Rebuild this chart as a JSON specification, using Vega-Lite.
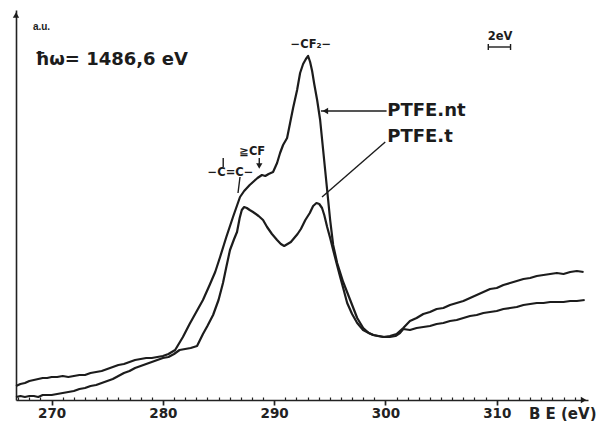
{
  "$schema": "https://vega.github.io/schema/vega-lite/v6.json",
  "width": 572,
  "height": 390,
  "autosize": {"type": "none"},
  "padding": {"left": 16, "top": 10, "right": 9, "bottom": 21},
  "background": "white",
  "config": {"view": {"stroke": null}, "font": "Liberation Sans"},
  "datasets": {
    "curves": [
      {"s":"PTFE.nt","be":266.8,"i":14},{"s":"PTFE.nt","be":267.2,"i":16},{"s":"PTFE.nt","be":267.6,"i":17},{"s":"PTFE.nt","be":268.0,"i":19},{"s":"PTFE.nt","be":268.4,"i":20},{"s":"PTFE.nt","be":268.8,"i":21},{"s":"PTFE.nt","be":269.2,"i":22},{"s":"PTFE.nt","be":269.6,"i":22},{"s":"PTFE.nt","be":270.0,"i":23},{"s":"PTFE.nt","be":270.5,"i":23},{"s":"PTFE.nt","be":271.0,"i":24},{"s":"PTFE.nt","be":271.5,"i":23},{"s":"PTFE.nt","be":272.0,"i":24},{"s":"PTFE.nt","be":272.5,"i":25},{"s":"PTFE.nt","be":273.0,"i":25},{"s":"PTFE.nt","be":273.5,"i":27},{"s":"PTFE.nt","be":274.0,"i":28},{"s":"PTFE.nt","be":274.5,"i":29},{"s":"PTFE.nt","be":275.0,"i":31},{"s":"PTFE.nt","be":275.5,"i":33},{"s":"PTFE.nt","be":276.0,"i":35},{"s":"PTFE.nt","be":276.5,"i":36},{"s":"PTFE.nt","be":277.0,"i":38},{"s":"PTFE.nt","be":277.5,"i":40},{"s":"PTFE.nt","be":278.0,"i":41},{"s":"PTFE.nt","be":278.5,"i":42},{"s":"PTFE.nt","be":279.0,"i":42},{"s":"PTFE.nt","be":279.5,"i":43},{"s":"PTFE.nt","be":280.0,"i":44},{"s":"PTFE.nt","be":280.5,"i":46},{"s":"PTFE.nt","be":281.1,"i":50},{"s":"PTFE.nt","be":281.8,"i":63},{"s":"PTFE.nt","be":282.4,"i":76},{"s":"PTFE.nt","be":283.0,"i":88},{"s":"PTFE.nt","be":283.6,"i":100},{"s":"PTFE.nt","be":284.2,"i":115},{"s":"PTFE.nt","be":284.7,"i":128},{"s":"PTFE.nt","be":285.14,"i":143},{"s":"PTFE.nt","be":285.7,"i":163},{"s":"PTFE.nt","be":286.3,"i":183},{"s":"PTFE.nt","be":286.93,"i":203},{"s":"PTFE.nt","be":287.3,"i":209},{"s":"PTFE.nt","be":287.8,"i":215},{"s":"PTFE.nt","be":288.2,"i":219},{"s":"PTFE.nt","be":288.5,"i":222},{"s":"PTFE.nt","be":288.9,"i":225},{"s":"PTFE.nt","be":289.2,"i":224},{"s":"PTFE.nt","be":289.5,"i":226},{"s":"PTFE.nt","be":289.9,"i":228},{"s":"PTFE.nt","be":290.26,"i":237},{"s":"PTFE.nt","be":290.53,"i":247},{"s":"PTFE.nt","be":290.8,"i":255},{"s":"PTFE.nt","be":291.16,"i":262},{"s":"PTFE.nt","be":291.43,"i":277},{"s":"PTFE.nt","be":291.7,"i":292},{"s":"PTFE.nt","be":292.06,"i":310},{"s":"PTFE.nt","be":292.33,"i":327},{"s":"PTFE.nt","be":292.6,"i":336},{"s":"PTFE.nt","be":292.85,"i":341},{"s":"PTFE.nt","be":293.05,"i":344},{"s":"PTFE.nt","be":293.23,"i":338},{"s":"PTFE.nt","be":293.41,"i":329},{"s":"PTFE.nt","be":293.6,"i":316},{"s":"PTFE.nt","be":293.86,"i":300},{"s":"PTFE.nt","be":294.13,"i":280},{"s":"PTFE.nt","be":294.4,"i":250},{"s":"PTFE.nt","be":294.58,"i":230},{"s":"PTFE.nt","be":294.76,"i":210},{"s":"PTFE.nt","be":295.03,"i":180},{"s":"PTFE.nt","be":295.3,"i":155},{"s":"PTFE.nt","be":295.66,"i":137},{"s":"PTFE.nt","be":296.2,"i":118},{"s":"PTFE.nt","be":296.83,"i":100},{"s":"PTFE.nt","be":297.46,"i":82},{"s":"PTFE.nt","be":298.0,"i":72},{"s":"PTFE.nt","be":298.5,"i":67},{"s":"PTFE.nt","be":298.9,"i":65},{"s":"PTFE.nt","be":299.3,"i":64},{"s":"PTFE.nt","be":299.8,"i":63},{"s":"PTFE.nt","be":300.4,"i":64},{"s":"PTFE.nt","be":301.0,"i":66},{"s":"PTFE.nt","be":301.6,"i":72},{"s":"PTFE.nt","be":302.2,"i":79},{"s":"PTFE.nt","be":302.8,"i":82},{"s":"PTFE.nt","be":303.4,"i":86},{"s":"PTFE.nt","be":304.0,"i":88},{"s":"PTFE.nt","be":304.6,"i":91},{"s":"PTFE.nt","be":305.2,"i":92},{"s":"PTFE.nt","be":305.8,"i":95},{"s":"PTFE.nt","be":306.4,"i":97},{"s":"PTFE.nt","be":307.0,"i":99},{"s":"PTFE.nt","be":307.6,"i":102},{"s":"PTFE.nt","be":308.2,"i":105},{"s":"PTFE.nt","be":308.8,"i":108},{"s":"PTFE.nt","be":309.4,"i":111},{"s":"PTFE.nt","be":310.0,"i":112},{"s":"PTFE.nt","be":310.6,"i":115},{"s":"PTFE.nt","be":311.2,"i":117},{"s":"PTFE.nt","be":311.8,"i":119},{"s":"PTFE.nt","be":312.4,"i":121},{"s":"PTFE.nt","be":313.0,"i":122},{"s":"PTFE.nt","be":313.6,"i":124},{"s":"PTFE.nt","be":314.2,"i":125},{"s":"PTFE.nt","be":314.8,"i":126},{"s":"PTFE.nt","be":315.4,"i":127},{"s":"PTFE.nt","be":316.0,"i":126},{"s":"PTFE.nt","be":316.6,"i":128},{"s":"PTFE.nt","be":317.2,"i":129},{"s":"PTFE.nt","be":317.8,"i":128},
      {"s":"PTFE.t","be":266.8,"i":3},{"s":"PTFE.t","be":267.2,"i":4},{"s":"PTFE.t","be":267.6,"i":3},{"s":"PTFE.t","be":268.0,"i":4},{"s":"PTFE.t","be":268.4,"i":4},{"s":"PTFE.t","be":268.8,"i":3},{"s":"PTFE.t","be":269.2,"i":5},{"s":"PTFE.t","be":269.6,"i":5},{"s":"PTFE.t","be":270.0,"i":5},{"s":"PTFE.t","be":270.5,"i":6},{"s":"PTFE.t","be":271.0,"i":7},{"s":"PTFE.t","be":271.5,"i":8},{"s":"PTFE.t","be":272.0,"i":9},{"s":"PTFE.t","be":272.5,"i":11},{"s":"PTFE.t","be":273.0,"i":12},{"s":"PTFE.t","be":273.5,"i":14},{"s":"PTFE.t","be":274.0,"i":15},{"s":"PTFE.t","be":274.5,"i":17},{"s":"PTFE.t","be":275.0,"i":19},{"s":"PTFE.t","be":275.5,"i":21},{"s":"PTFE.t","be":276.0,"i":24},{"s":"PTFE.t","be":276.5,"i":27},{"s":"PTFE.t","be":277.0,"i":29},{"s":"PTFE.t","be":277.5,"i":32},{"s":"PTFE.t","be":278.0,"i":34},{"s":"PTFE.t","be":278.5,"i":36},{"s":"PTFE.t","be":279.0,"i":38},{"s":"PTFE.t","be":279.5,"i":40},{"s":"PTFE.t","be":280.0,"i":42},{"s":"PTFE.t","be":280.5,"i":43},{"s":"PTFE.t","be":281.0,"i":46},{"s":"PTFE.t","be":281.5,"i":50},{"s":"PTFE.t","be":282.0,"i":51},{"s":"PTFE.t","be":282.5,"i":52},{"s":"PTFE.t","be":283.07,"i":54},{"s":"PTFE.t","be":283.6,"i":66},{"s":"PTFE.t","be":284.0,"i":74},{"s":"PTFE.t","be":284.51,"i":85},{"s":"PTFE.t","be":285.0,"i":100},{"s":"PTFE.t","be":285.4,"i":117},{"s":"PTFE.t","be":285.7,"i":133},{"s":"PTFE.t","be":286.03,"i":150},{"s":"PTFE.t","be":286.4,"i":161},{"s":"PTFE.t","be":286.66,"i":168},{"s":"PTFE.t","be":286.9,"i":182},{"s":"PTFE.t","be":287.09,"i":190},{"s":"PTFE.t","be":287.3,"i":193},{"s":"PTFE.t","be":287.54,"i":192},{"s":"PTFE.t","be":287.8,"i":190},{"s":"PTFE.t","be":288.1,"i":188},{"s":"PTFE.t","be":288.6,"i":184},{"s":"PTFE.t","be":289.0,"i":180},{"s":"PTFE.t","be":289.36,"i":173},{"s":"PTFE.t","be":289.8,"i":166},{"s":"PTFE.t","be":290.26,"i":160},{"s":"PTFE.t","be":290.6,"i":156},{"s":"PTFE.t","be":290.9,"i":154},{"s":"PTFE.t","be":291.2,"i":156},{"s":"PTFE.t","be":291.5,"i":158},{"s":"PTFE.t","be":291.8,"i":162},{"s":"PTFE.t","be":292.1,"i":166},{"s":"PTFE.t","be":292.4,"i":171},{"s":"PTFE.t","be":292.8,"i":180},{"s":"PTFE.t","be":293.2,"i":187},{"s":"PTFE.t","be":293.5,"i":194},{"s":"PTFE.t","be":293.8,"i":197},{"s":"PTFE.t","be":294.05,"i":196},{"s":"PTFE.t","be":294.3,"i":192},{"s":"PTFE.t","be":294.5,"i":185},{"s":"PTFE.t","be":294.76,"i":173},{"s":"PTFE.t","be":295.03,"i":162},{"s":"PTFE.t","be":295.3,"i":150},{"s":"PTFE.t","be":295.6,"i":137},{"s":"PTFE.t","be":295.93,"i":123},{"s":"PTFE.t","be":296.2,"i":112},{"s":"PTFE.t","be":296.56,"i":97},{"s":"PTFE.t","be":297.0,"i":86},{"s":"PTFE.t","be":297.46,"i":77},{"s":"PTFE.t","be":297.99,"i":70},{"s":"PTFE.t","be":298.5,"i":67},{"s":"PTFE.t","be":298.9,"i":65},{"s":"PTFE.t","be":299.4,"i":64},{"s":"PTFE.t","be":299.9,"i":63},{"s":"PTFE.t","be":300.4,"i":63},{"s":"PTFE.t","be":300.9,"i":64},{"s":"PTFE.t","be":301.3,"i":67},{"s":"PTFE.t","be":301.6,"i":71},{"s":"PTFE.t","be":302.2,"i":70},{"s":"PTFE.t","be":302.8,"i":72},{"s":"PTFE.t","be":303.4,"i":73},{"s":"PTFE.t","be":304.0,"i":74},{"s":"PTFE.t","be":304.6,"i":76},{"s":"PTFE.t","be":305.2,"i":77},{"s":"PTFE.t","be":305.8,"i":79},{"s":"PTFE.t","be":306.4,"i":80},{"s":"PTFE.t","be":307.0,"i":82},{"s":"PTFE.t","be":307.6,"i":84},{"s":"PTFE.t","be":308.2,"i":85},{"s":"PTFE.t","be":308.8,"i":87},{"s":"PTFE.t","be":309.4,"i":88},{"s":"PTFE.t","be":310.0,"i":89},{"s":"PTFE.t","be":310.6,"i":91},{"s":"PTFE.t","be":311.2,"i":92},{"s":"PTFE.t","be":311.8,"i":93},{"s":"PTFE.t","be":312.4,"i":95},{"s":"PTFE.t","be":313.0,"i":96},{"s":"PTFE.t","be":313.6,"i":97},{"s":"PTFE.t","be":314.2,"i":97},{"s":"PTFE.t","be":314.8,"i":98},{"s":"PTFE.t","be":315.4,"i":98},{"s":"PTFE.t","be":316.0,"i":98},{"s":"PTFE.t","be":316.6,"i":99},{"s":"PTFE.t","be":317.2,"i":99},{"s":"PTFE.t","be":317.9,"i":100}
    ]
  },
  "layer": [
    {
      "data": {"name": "curves"},
      "mark": {"type": "line", "color": "#1c1c1c", "strokeWidth": 2.2, "strokeJoin": "round"},
      "encoding": {
        "x": {"field": "be", "type": "quantitative", "scale": {"domain": [266.8, 318.2], "nice": false, "zero": false},
          "axis": {"orient": "bottom",
            "values": [267,268,269,270,271,272,273,274,275,276,277,278,279,280,281,282,283,284,285,286,287,288,289,290,291,292,293,294,295,296,297,298,299,300,301,302,303,304,305,306,307,308,309,310,311,312,313,314,315,316,317],
            "labelExpr": "datum.value % 10 === 0 ? datum.label : ''",
            "tickSize": {"condition": {"test": "datum.value % 10 === 0", "value": 5}, "value": -3},
            "tickWidth": {"condition": {"test": "datum.value % 10 === 0", "value": 1.7}, "value": 1.2},
            "tickColor": "#222", "domainColor": "#222", "domainWidth": 1.6, "grid": false,
            "labelFont": "DejaVu Sans", "labelFontSize": 13.5, "labelFontWeight": "bold", "labelColor": "#222", "labelPadding": 1,
            "title": "B E (eV)", "titleFont": "DejaVu Sans", "titleFontSize": 15, "titleFontWeight": "bold", "titleColor": "#222",
            "titleAnchor": "end", "titleAlign": "right", "titleX": 580, "titleY": 18, "titleBaseline": "alphabetic"}},
        "y": {"field": "i", "type": "quantitative", "scale": {"domain": [0, 390], "nice": false, "zero": false},
          "axis": {"orient": "left", "ticks": false, "labels": false, "title": null, "grid": false, "domainColor": "#222", "domainWidth": 1.6}},
        "detail": {"field": "s"}
      }
    },
    {
      "data": {"values": [{"t": "PTFE.nt", "be": 300.16, "i": 289}, {"t": "PTFE.t", "be": 300.16, "i": 263}]},
      "mark": {"type": "text", "font": "DejaVu Sans", "fontWeight": "bold", "fontSize": 18, "align": "left", "baseline": "middle", "color": "#1c1c1c"},
      "encoding": {
        "x": {"field": "be", "type": "quantitative", "scale": {"domain": [266.8, 318.2], "nice": false, "zero": false}, "axis": null},
        "y": {"field": "i", "type": "quantitative", "scale": {"domain": [0, 390], "nice": false, "zero": false}, "axis": null},
        "text": {"field": "t"}
      }
    },
    {
      "data": {"values": [{"t": "ħω= 1486,6 eV", "be": 268.5, "i": 340}]},
      "mark": {"type": "text", "font": "DejaVu Sans", "fontWeight": "bold", "fontSize": 18, "align": "left", "baseline": "middle", "color": "#1c1c1c"},
      "encoding": {
        "x": {"field": "be", "type": "quantitative", "scale": {"domain": [266.8, 318.2], "nice": false, "zero": false}, "axis": null},
        "y": {"field": "i", "type": "quantitative", "scale": {"domain": [0, 390], "nice": false, "zero": false}, "axis": null},
        "text": {"field": "t"}
      }
    },
    {
      "data": {"values": [{"t": "a.u.", "be": 268.32, "i": 373}]},
      "mark": {"type": "text", "font": "Liberation Sans", "fontWeight": "bold", "fontSize": 10, "align": "left", "baseline": "middle", "color": "#1c1c1c"},
      "encoding": {
        "x": {"field": "be", "type": "quantitative", "scale": {"domain": [266.8, 318.2], "nice": false, "zero": false}, "axis": null},
        "y": {"field": "i", "type": "quantitative", "scale": {"domain": [0, 390], "nice": false, "zero": false}, "axis": null},
        "text": {"field": "t"}
      }
    },
    {
      "data": {"values": [{"t": "−CF₂−", "be": 293.3, "i": 355}, {"t": "2eV", "be": 310.3, "i": 363}, {"t": "≧CF", "be": 288.03, "i": 248}, {"t": "−C=C−", "be": 286.07, "i": 227}]},
      "mark": {"type": "text", "font": "DejaVu Sans", "fontWeight": "bold", "fontSize": 11.5, "align": "center", "baseline": "middle", "color": "#1c1c1c"},
      "encoding": {
        "x": {"field": "be", "type": "quantitative", "scale": {"domain": [266.8, 318.2], "nice": false, "zero": false}, "axis": null},
        "y": {"field": "i", "type": "quantitative", "scale": {"domain": [0, 390], "nice": false, "zero": false}, "axis": null},
        "text": {"field": "t"}
      }
    },
    {
      "data": {"values": [
        {"be": 294.2, "i": 289, "be2": 300.1, "i2": 289},
        {"be": 294.3, "i": 203, "be2": 299.98, "i2": 258},
        {"be": 309.24, "i": 353, "be2": 311.24, "i2": 353},
        {"be": 309.24, "i": 350, "be2": 309.24, "i2": 356},
        {"be": 311.24, "i": 350, "be2": 311.24, "i2": 356},
        {"be": 288.66, "i": 242, "be2": 288.66, "i2": 233},
        {"be": 285.42, "i": 242, "be2": 285.42, "i2": 233},
        {"be": 286.93, "i": 223, "be2": 286.75, "i2": 207}
      ]},
      "mark": {"type": "rule", "color": "#1c1c1c", "strokeWidth": 1.4},
      "encoding": {
        "x": {"field": "be", "type": "quantitative", "scale": {"domain": [266.8, 318.2], "nice": false, "zero": false}, "axis": null},
        "x2": {"field": "be2"},
        "y": {"field": "i", "type": "quantitative", "scale": {"domain": [0, 390], "nice": false, "zero": false}, "axis": null},
        "y2": {"field": "i2"}
      }
    },
    {
      "data": {"values": [
        {"sh": "triangle-left", "be": 294.6, "i": 289},
        {"sh": "triangle-down", "be": 288.66, "i": 234},
        {"sh": "triangle-up", "be": 266.8, "i": 385},
        {"sh": "triangle-right", "be": 317.8, "i": 0}
      ]},
      "mark": {"type": "point", "filled": true, "color": "#1c1c1c", "size": 40, "opacity": 1},
      "encoding": {
        "x": {"field": "be", "type": "quantitative", "scale": {"domain": [266.8, 318.2], "nice": false, "zero": false}, "axis": null},
        "y": {"field": "i", "type": "quantitative", "scale": {"domain": [0, 390], "nice": false, "zero": false}, "axis": null},
        "shape": {"field": "sh", "type": "nominal", "scale": {"domain": ["triangle-left", "triangle-down", "triangle-up", "triangle-right"], "range": ["triangle-left", "triangle-down", "triangle-up", "triangle-right"]}, "legend": null}
      }
    }
  ],
  "resolve": {"axis": {"x": "independent", "y": "independent"}}
}
